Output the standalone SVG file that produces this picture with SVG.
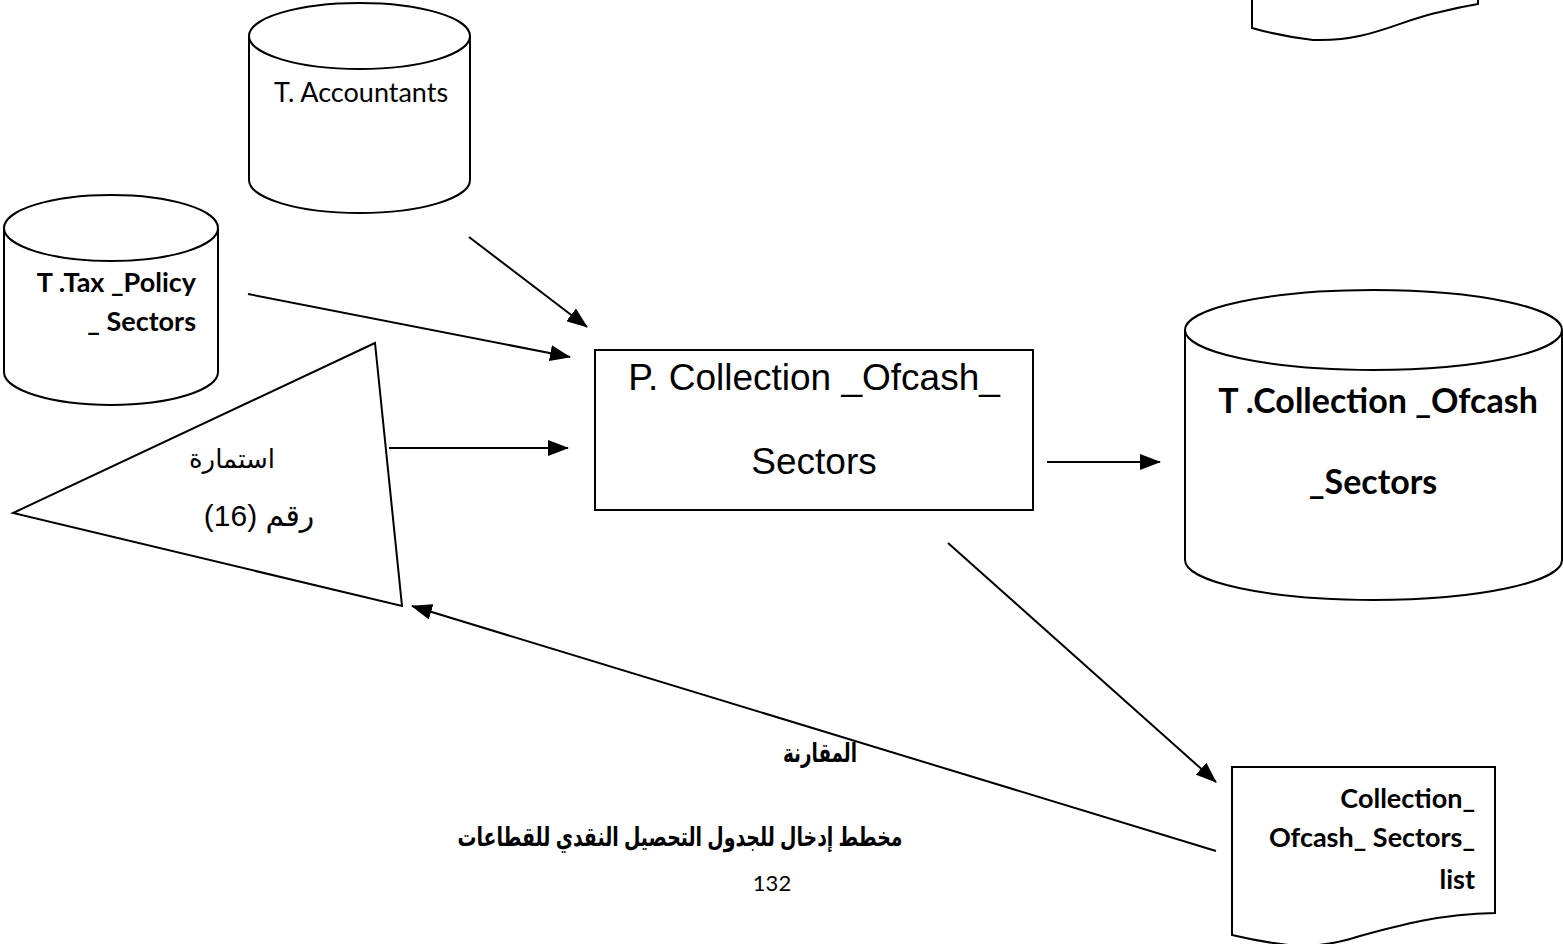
<svg xmlns="http://www.w3.org/2000/svg" width="1563" height="944" viewBox="0 0 1563 944">
<style>
.s{fill:#fff;stroke:#000;stroke-width:2}
.c{stroke:#000;stroke-width:2;fill:none}
.cal{font-family:Lato,"Open Sans","Liberation Sans",sans-serif;fill:#000}
.ar{font-family:"Liberation Sans","DejaVu Sans",sans-serif;fill:#000}
</style>
<defs>
<marker id="ah" markerUnits="userSpaceOnUse" markerWidth="22" markerHeight="16" refX="20" refY="8" orient="auto">
<path d="M0,0 L21,8 L0,16 Z" fill="#000"/>
</marker>
</defs>
<rect width="1563" height="944" fill="#fff"/>

<g id="doc-top">
<path class="s" d="M1252,-2 L1252,28 Q1280,36 1313,40 C1370,42 1400,20 1440,12 Q1460,7 1478,4 L1478,-2"/>
</g>

<g id="t-accountants">
<path class="s" d="M249,36 L249,180 A110.5,33 0 0 0 470,180 L470,36"/>
<ellipse class="s" cx="359.5" cy="36" rx="110.5" ry="33"/>
<text class="cal" x="361" y="102" font-size="27" text-anchor="middle">T. Accountants</text>
</g>

<g id="t-tax-policy">
<path class="s" d="M4,228 L4,372 A107,33 0 0 0 218,372 L218,228"/>
<ellipse class="s" cx="111" cy="228" rx="107" ry="33"/>
<text class="cal" x="196" y="292" font-size="27" font-weight="bold" text-anchor="end">T .Tax _Policy</text>
<text class="cal" x="196" y="331" font-size="27" font-weight="bold" text-anchor="end">_ Sectors</text>
</g>

<g id="form16">
<polygon class="s" points="375,343 13,513 402,606"/>
<text class="ar" x="232" y="468" font-size="26" text-anchor="middle" direction="rtl">استمارة</text>
<text class="ar" x="259" y="526" font-size="30" text-anchor="middle" direction="rtl">رقم (16)</text>
</g>

<g id="process">
<rect class="s" x="595" y="350" width="438" height="160"/>
<text class="ar" x="814" y="390" font-size="37" text-anchor="middle">P. Collection _Ofcash_</text>
<text class="ar" x="814" y="474" font-size="37" text-anchor="middle">Sectors</text>
</g>

<g id="t-collection">
<path class="s" d="M1185,330 L1185,560 A188.5,40 0 0 0 1562,560 L1562,330"/>
<ellipse class="s" cx="1373.5" cy="330" rx="188.5" ry="40"/>
<text class="cal" x="1378" y="413" font-size="34" font-weight="bold" text-anchor="middle">T .Collection _Ofcash</text>
<text class="cal" x="1373" y="494" font-size="34" font-weight="bold" text-anchor="middle">_Sectors</text>
</g>

<g id="doc-list">
<path class="s" d="M1232,767 L1495,767 L1495,913 C1440,914 1400,925 1360,936 Q1330,946 1300,946 Q1270,944 1232,935 Z"/>
<text class="cal" x="1475" y="808" font-size="27" font-weight="bold" text-anchor="end">Collection_</text>
<text class="cal" x="1475" y="847" font-size="27" font-weight="bold" text-anchor="end">Ofcash_ Sectors_</text>
<text class="cal" x="1475" y="889" font-size="27" font-weight="bold" text-anchor="end">list</text>
</g>

<g id="connectors">
<line class="c" x1="469" y1="237" x2="587" y2="327" marker-end="url(#ah)"/>
<line class="c" x1="248" y1="294" x2="570" y2="357" marker-end="url(#ah)"/>
<line class="c" x1="389" y1="448" x2="568" y2="448" marker-end="url(#ah)"/>
<line class="c" x1="1047" y1="462" x2="1160" y2="462" marker-end="url(#ah)"/>
<line class="c" x1="948" y1="543" x2="1216" y2="782" marker-end="url(#ah)"/>
<line class="c" x1="1216" y1="851" x2="412" y2="606" marker-end="url(#ah)"/>
</g>

<g id="labels">
<text class="ar" x="820" y="762" font-size="26" font-weight="bold" text-anchor="middle" direction="rtl" textLength="74" lengthAdjust="spacingAndGlyphs">المقارنة</text>
<text class="ar" x="680" y="846" font-size="26" font-weight="bold" text-anchor="middle" direction="rtl" textLength="445" lengthAdjust="spacingAndGlyphs">مخطط إدخال للجدول التحصيل النقدي للقطاعات</text>
<text class="cal" x="772" y="891" font-size="22" text-anchor="middle">132</text>
</g>
</svg>
